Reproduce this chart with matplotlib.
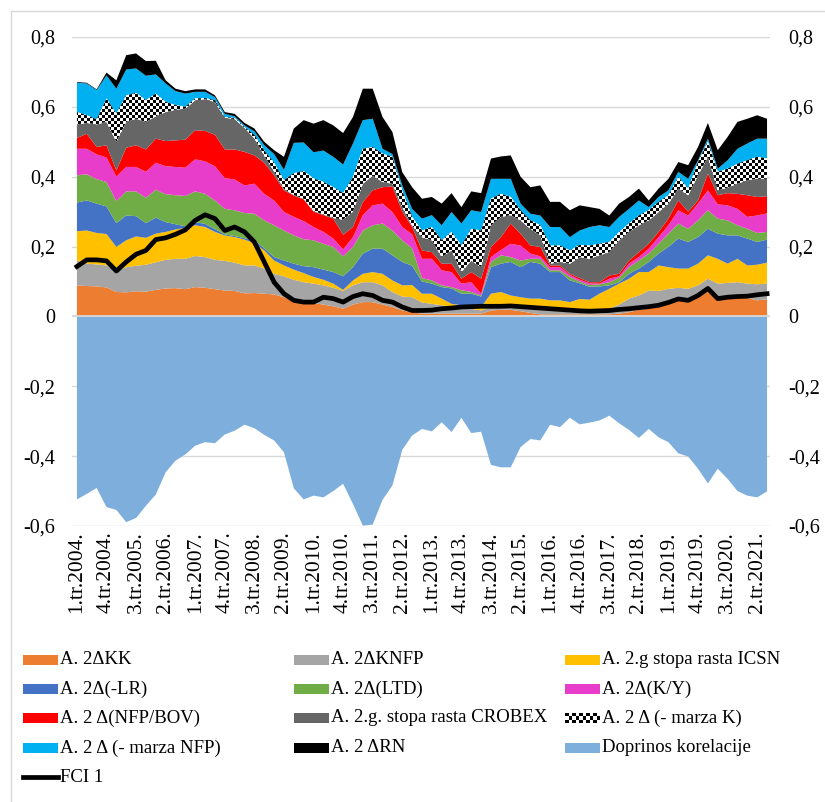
import numpy as np
import matplotlib
matplotlib.use("Agg")
import matplotlib.pyplot as plt
from matplotlib.patches import Rectangle
from matplotlib.lines import Line2D

plt.rcParams['font.family'] = ['Liberation Serif', 'DejaVu Serif']

# ---------------- data ----------------
quarters = [f"{i % 4 + 1}.tr.{2004 + i // 4}." for i in range(71)]

kk = [.089, .087, .086, .083, .070, .069, .072, .071, .076, .080,
      .081, .078, .084, .082, .078, .074, .073, .066, .067, .065,
      .063, .055, .046, .038, .038, .034, .029, .022, .034, .041,
      .041, .034, .027, .017, .012, .008, .008, .008, .008, .008,
      .008, .008, .017, .019, .019, .015, .010, .006, .006, .006,
      .006, .006, .006, .006, .006, .008, .012, .019, .022, .032,
      .044, .055, .046, .060, .079, .046, .051, .053, .053, .046, .049]
knfp = [.071, .064, .063, .063, .060, .072, .073, .077, .079, .082,
        .084, .087, .089, .088, .084, .085, .081, .080, .079, .072,
        .059, .060, .059, .060, .056, .055, .053, .051, .055, .057,
        .057, .055, .043, .040, .043, .032, .028, .024, .019, .014,
        .014, .009, .010, .013, .013, .012, .012, .013, .011, .009,
        .006, .008, .009, .011, .016, .026, .039, .041, .052, .041,
        .035, .027, .033, .029, .029, .048, .045, .045, .041, .046, .045]
icsn = [.084, .095, .090, .090, .069, .077, .084, .077, .082, .080,
        .084, .089, .088, .086, .080, .073, .073, .074, .064, .052,
        .038, .031, .029, .026, .019, .016, .012, .003, .014, .024,
        .029, .033, .033, .032, .035, .025, .029, .019, .009, .010,
        .010, .010, .038, .038, .028, .028, .029, .032, .029, .031,
        .029, .036, .033, .048, .057, .060, .057, .067, .053, .073,
        .062, .055, .058, .062, .067, .071, .055, .067, .052, .056, .060]
lr = [.082, .086, .084, .079, .068, .071, .058, .042, .046, .028,
      .015, .004, .009, .009, .008, .003, .003, .004, .008, .006,
      .010, .014, .017, .020, .028, .029, .033, .039, .038, .058,
      .067, .072, .072, .067, .055, .035, .029, .033, .044, .033,
      .033, .030, .076, .081, .096, .086, .105, .100, .081, .081,
      .062, .045, .037, .021, .010, .004, .014, .010, .029, .034,
      .058, .086, .076, .076, .076, .072, .081, .067, .077, .065, .066]
ltd = [.078, .075, .070, .070, .063, .069, .071, .073, .080, .080,
       .083, .087, .088, .086, .082, .073, .074, .072, .076, .080,
       .091, .086, .081, .077, .077, .074, .072, .057, .058, .066,
       .067, .072, .071, .062, .050, .010, .009, .005, .004, .010,
       .005, .003, .015, .024, .014, .019, .009, .014, .005, .005,
       .010, .005, .005, .006, .009, .013, .019, .023, .024, .028,
       .038, .043, .038, .048, .053, .043, .043, .029, .028, .026, .022]
ky = [.076, .073, .071, .070, .070, .070, .070, .074, .077, .080,
      .081, .081, .092, .093, .098, .088, .088, .079, .086, .076,
      .071, .053, .053, .052, .038, .034, .024, .020, .028, .044,
      .057, .057, .053, .038, .040, .055, .062, .043, .043, .019,
      .028, .005, .014, .015, .038, .043, .015, .007, .009, .009,
      .006, .005, .005, .002, .010, .004, .010, .010, .014, .019,
      .024, .038, .038, .048, .057, .041, .043, .047, .034, .050, .053]
nfp_bov = [.031, .043, .021, .035, .018, .055, .062, .064, .069, .072,
           .076, .080, .083, .087, .090, .082, .086, .096, .081, .089,
           .072, .062, .061, .062, .044, .048, .057, .042, .029, .037,
           .043, .047, .073, .044, .021, .024, .019, .019, .024, .014,
           .029, .043, .029, .037, .058, .034, .023, .027, .005, .005,
           .003, .005, .003, .004, .009, .007, .009, .014, .014, .015,
           .019, .028, .011, .009, .048, .026, .035, .043, .062, .053, .049]
crobex = [.039, .031, .065, .067, .082, .074, .076, .079, .064, .083,
          .088, .089, .086, .091, .094, .091, .087, .069, .049, .020,
          .011, .004, .002, .002, .002, .002, .002, .043, .044, .053,
          .042, .015, .008, .013, .004, .038, .034, .019, .038, .019,
          .033, .033, .061, .058, .024, .038, .048, .033, .005, .010,
          .029, .060, .067, .077, .067, .096, .082, .077, .067, .057,
          .043, .034, .047, .072, .048, .014, .016, .029, .043, .052, .050]
marza_k = [.035, .022, .014, .067, .080, .076, .074, .062, .065, .029,
           .013, .005, .005, .003, .005, .002, .003, .002, .010, .015,
           .025, .025, .062, .079, .093, .093, .088, .076, .099, .100,
           .082, .081, .077, .047, .025, .019, .038, .048, .053, .076,
           .091, .105, .077, .066, .052, .029, .024, .029, .052, .047,
           .038, .035, .038, .033, .029, .024, .024, .028, .029, .029,
           .024, .033, .019, .038, .043, .053, .054, .057, .057, .063, .058]
marza_nfp = [.084, .091, .084, .066, .072, .074, .070, .070, .055, .053,
             .040, .038, .019, .018, .009, .009, .005, .005, .010, .015,
             .025, .030, .087, .082, .075, .090, .087, .082, .096, .082,
             .081, .014, .008, .015, .023, .034, .034, .043, .057, .063,
             .053, .053, .057, .043, .052, .019, .019, .028, .053, .053,
             .038, .041, .053, .053, .043, .043, .042, .043, .009, .014,
             .014, .015, .028, .005, .009, .009, .024, .043, .048, .052, .057]
rn = [.002, .002, .002, .008, .024, .041, .043, .042, .039, .009,
      .007, .007, .007, .007, .005, .005, .007, .007, .008, .010,
      .011, .037, .041, .064, .082, .087, .090, .090, .076, .090,
      .086, .091, .063, .038, .062, .057, .052, .062, .054, .047,
      .054, .054, .058, .064, .067, .077, .076, .086, .072, .072,
      .077, .072, .057, .047, .033, .038, .034, .034, .019, .024,
      .033, .028, .039, .038, .045, .053, .067, .077, .071, .067, .057]
doprinos = [-.524, -.508, -.491, -.546, -.554, -.589, -.577, -.542, -.510, -.446,
            -.413, -.395, -.370, -.360, -.363, -.338, -.327, -.310, -.320, -.339,
            -.355, -.389, -.492, -.524, -.513, -.518, -.500, -.479, -.537, -.599,
            -.596, -.525, -.484, -.382, -.341, -.322, -.329, -.303, -.331, -.290,
            -.334, -.330, -.425, -.432, -.432, -.374, -.351, -.355, -.310, -.317,
            -.290, -.309, -.304, -.298, -.284, -.306, -.325, -.348, -.322, -.346,
            -.360, -.392, -.401, -.436, -.478, -.436, -.465, -.500, -.513, -.518, -.501]
fci = [.143, .162, .162, .159, .130, .156, .178, .189, .220, .225,
       .235, .248, .275, .291, .280, .246, .256, .242, .213, .156,
       .098, .065, .046, .041, .041, .055, .051, .041, .057, .065,
       .060, .046, .041, .027, .017, .017, .018, .022, .024, .027,
       .028, .029, .029, .029, .030, .028, .026, .024, .022, .020,
       .018, .016, .015, .016, .017, .020, .022, .025, .028, .032,
       .040, .050, .046, .060, .080, .051, .055, .057, .058, .062, .065]

labels = ["A. 2ΔKK", "A. 2ΔKNFP", "A. 2.g stopa rasta ICSN",
          "A. 2Δ(-LR)", "A. 2Δ(LTD)", "A. 2Δ(K/Y)",
          "A. 2 Δ(NFP/BOV)", "A. 2.g. stopa rasta CROBEX", "A. 2 Δ (- marza K)",
          "A. 2 Δ (- marza NFP)", "A. 2 ΔRN", "Doprinos korelacije", "FCI 1"]
colors = ["#ED7D31", "#A5A5A5", "#FFC000",
          "#4472C4", "#70AD47", "#E83DCB",
          "#FF0000", "#666666", "checker",
          "#00B0F0", "#000000", "#7DAEDC", "line"]
ytick_vals = [-0.6, -0.4, -0.2, 0, 0.2, 0.4, 0.6, 0.8]
ytick_labels = ["-0,6", "-0,4", "-0,2", "0", "0,2", "0,4", "0,6", "0,8"]

# ---------------- figure ----------------
W, H = 825, 802
fig = plt.figure(figsize=(W / 100, H / 100), dpi=100)

def fx(px):
    return px / W

def fy(py):
    return 1 - py / H

ax = fig.add_axes([fx(72), fy(526), (770 - 72) / W, (526 - 37) / H])
x = np.arange(len(quarters))
XL = (-0.5, 70.3)
YL = (-0.6, 0.8)

for yv in ytick_vals:
    ax.axhline(yv, color="#d9d9d9", lw=1, zorder=0.5)

stack = [kk, knfp, icsn, lr, ltd, ky, nfp_bov, crobex, marza_k, marza_nfp, rn]
base = np.zeros(len(x))
for k, s in enumerate(stack):
    top = base + np.asarray(s)
    if colors[k] == "checker":
        poly = ax.fill_between(x, base, top, facecolor="white", linewidth=0, zorder=2)
        ny, nx = 163, 233
        board = np.add.outer(np.arange(ny), np.arange(nx)) % 2
        im = ax.imshow(board, cmap="gray", vmin=0, vmax=1, extent=(XL[0], XL[1], YL[0], YL[1]),
                       aspect="auto", interpolation="nearest", origin="lower", zorder=2.1)
        im.set_clip_path(poly.get_paths()[0], ax.transData)
    else:
        ax.fill_between(x, base, top, facecolor=colors[k], linewidth=0, zorder=2)
    base = top

ax.fill_between(x, 0, doprinos, facecolor=colors[11], linewidth=0, zorder=2)
ax.axhline(0, color="#d9d9d9", lw=1.3, zorder=3)
ax.plot(x, fci, color="black", lw=3.4, zorder=5, solid_joinstyle="round")

ax.set_xlim(*XL)
ax.set_ylim(*YL)
ax.set_yticks(ytick_vals)
ax.set_yticklabels(ytick_labels, fontsize=14.5)
ax.set_xticks(x[::3])
ax.set_xticklabels(quarters[::3], rotation=90, fontsize=15.5)
ax.tick_params(axis="y", length=0, pad=12)
ax.tick_params(axis="x", length=0, pad=4)
for sp in ax.spines.values():
    sp.set_visible(False)

ax2 = ax.twinx()
ax2.set_ylim(*YL)
ax2.set_yticks(ytick_vals)
ax2.set_yticklabels(ytick_labels, fontsize=14.5)
ax2.tick_params(axis="y", length=0, pad=13)
for sp in ax2.spines.values():
    sp.set_visible(False)

# chart border
fig.add_artist(Rectangle((fx(11), -0.05), 1.2, fy(11) + 0.05, transform=fig.transFigure,
                         fill=False, edgecolor="#d9d9d9", lw=1))

# ---------------- legend (row-major, 3 columns) ----------------
cols_x = [23, 294, 565]
rows_y = [660, 689, 718, 748, 777]
hw, hh = 35, 10
for n, (lab, col) in enumerate(zip(labels, colors)):
    r, c = divmod(n, 3)
    x0, yc = cols_x[c], rows_y[r]
    if col == "line":
        fig.add_artist(Line2D([fx(x0), fx(x0 + hw)], [fy(yc), fy(yc)], color="black", lw=3.4,
                              transform=fig.transFigure))
    elif col == "checker":
        fig.add_artist(Rectangle((fx(x0), fy(yc + hh / 2)), hw / W, hh / H,
                                 transform=fig.transFigure, facecolor="white", edgecolor="none"))
        cw, ch = hw / 10, hh / 3
        for i in range(10):
            for j in range(3):
                if (i + j) % 2 == 0:
                    fig.add_artist(Rectangle((fx(x0 + i * cw), fy(yc - hh / 2 + (j + 1) * ch)),
                                             cw / W, ch / H, transform=fig.transFigure,
                                             facecolor="black", edgecolor="none"))
    else:
        fig.add_artist(Rectangle((fx(x0), fy(yc + hh / 2)), hw / W, hh / H,
                                 transform=fig.transFigure, facecolor=col, edgecolor="none"))
    fig.text(fx(x0 + hw + 2), fy(yc), lab, fontsize=13.5, va="center", ha="left")

fig.savefig("out.png", dpi=100)
